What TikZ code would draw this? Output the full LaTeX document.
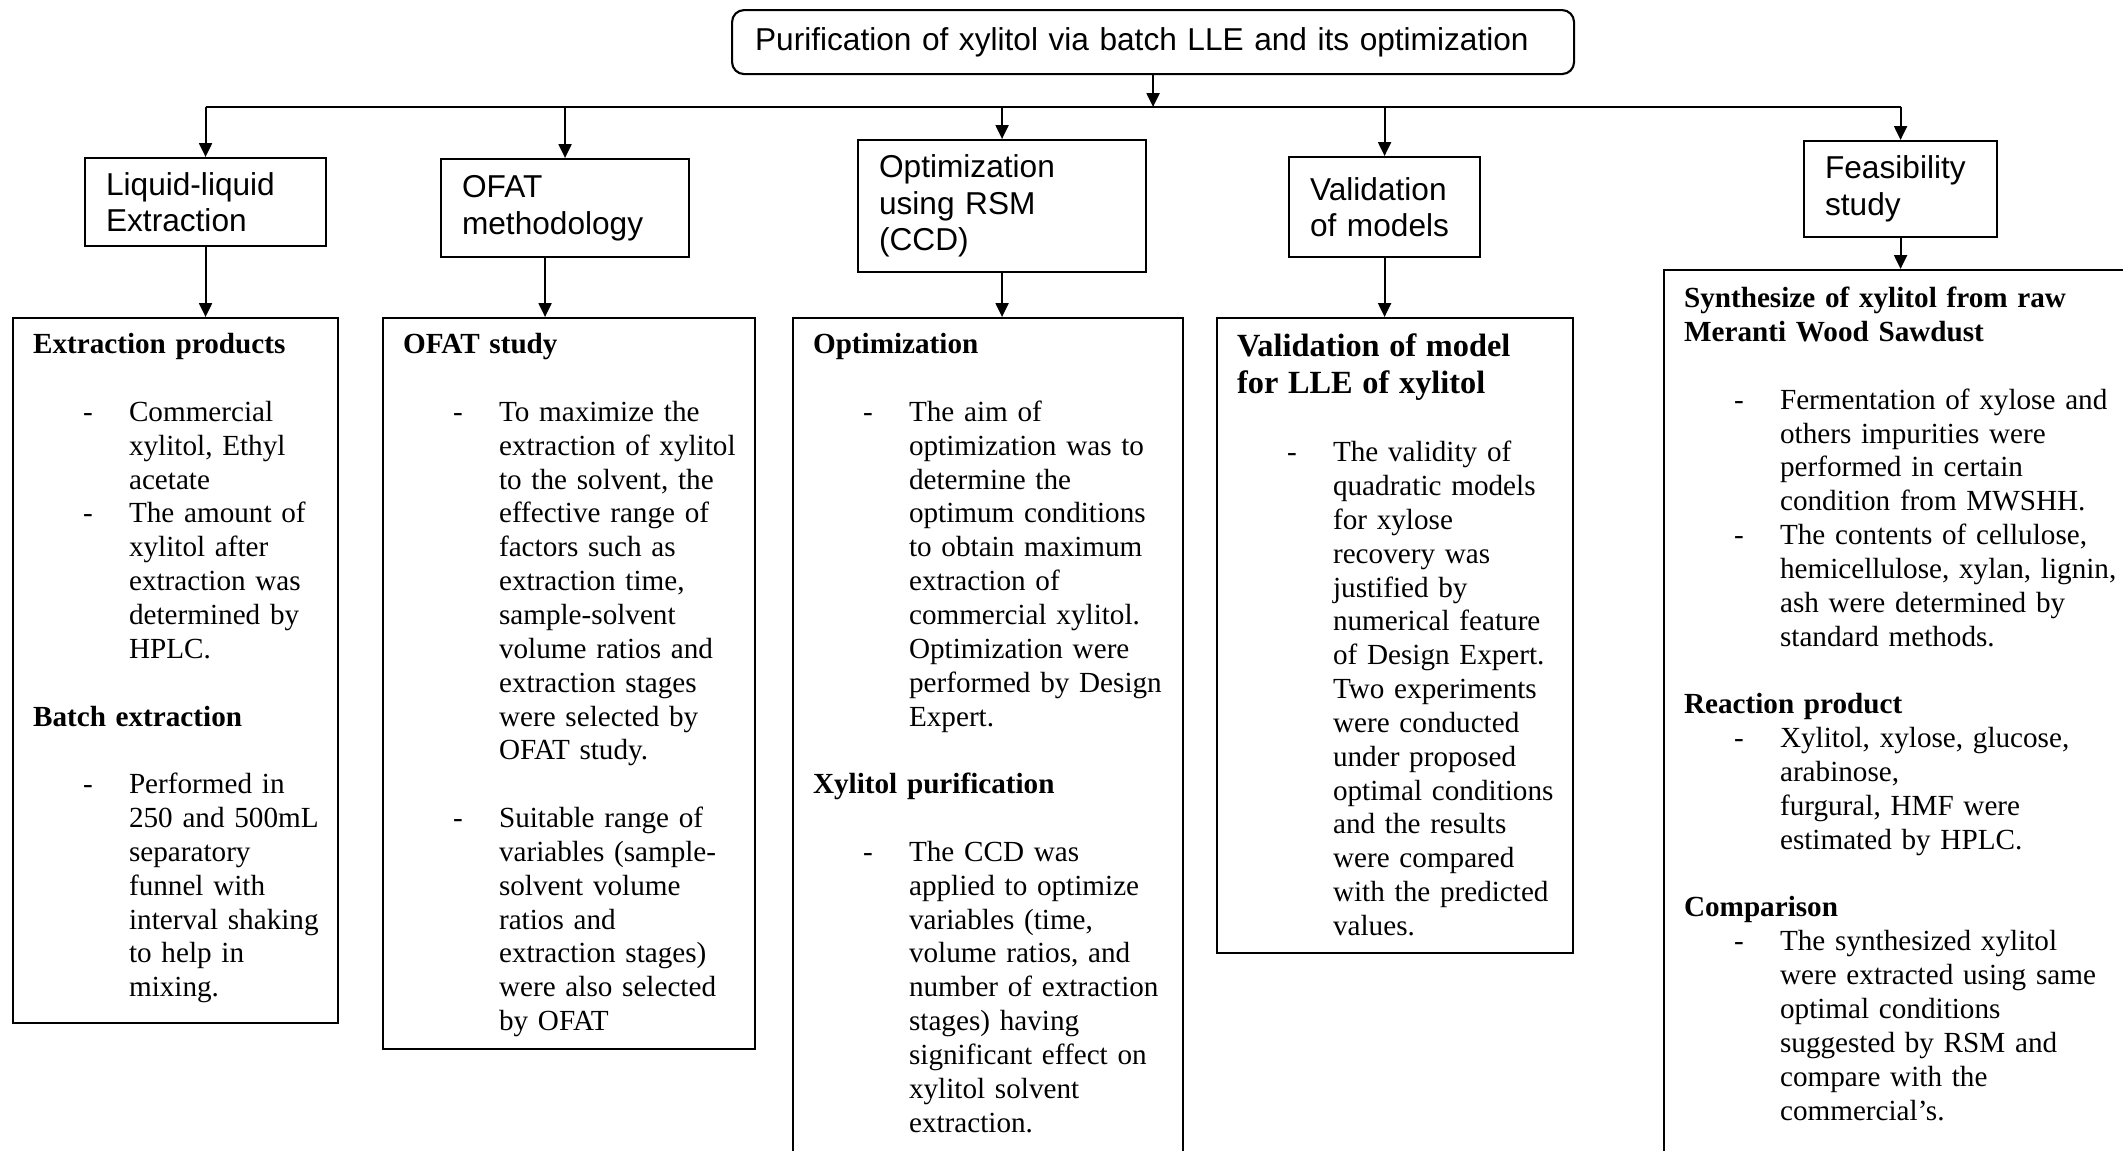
\documentclass[tikz,border=0pt]{standalone}
\usepackage{fontspec}
\setmainfont{Liberation Serif}
\newfontfamily\arialfont{Liberation Sans}
\usetikzlibrary{positioning,arrows.meta}

\newcommand{\nl}{\hfil\break}
\newcommand{\hd}[1]{\noindent\strut\textbf{#1}\par}
\newcommand{\itm}[1]{\noindent\hangindent=9.6mm\hangafter=1\hbox to 9.6mm{\hskip5mm-\hfil}#1\par}
\newcommand{\gap}{\vspace{\baselineskip}}

\tikzset{
  arr/.style={-{Triangle[width=1.3mm,length=1.4mm]}},
  title/.style={draw,rounded corners=1.2mm,anchor=north west,align=left,inner xsep=2.3mm,inner ysep=0pt,font=\arialfont\fontsize{9}{10.4}\selectfont},
  lbl/.style={draw,anchor=north west,align=left,inner xsep=2.1mm,inner ysep=0pt,font=\arialfont\fontsize{9}{10.4}\selectfont},
  frame/.style={draw,anchor=north west,inner sep=0pt},
  boxtext/.style={anchor=north west,inner sep=0pt,align=left,font=\fontsize{8.3}{9.63}\selectfont}
}

\begin{document}
\begin{tikzpicture}[x=0.1mm,y=-0.1mm,line width=0.6pt]
    \useasboundingbox (0,0) rectangle (2123,1150);
    \clip (0,0) rectangle (2123,1150);

    \node[title,text width=79.6mm,minimum height=6.4mm] (top) at (731,9) {Purification of xylitol via batch LLE and its optimization};

    \node[lbl,text width=19.9mm,minimum height=8.8mm] (lle) at (84,157) {Liquid-liquid\\Extraction};
    \node[lbl,text width=20.6mm,minimum height=9.8mm] (ofat) at (440,158) {OFAT\\methodology};
    \node[lbl,text width=24.6mm,minimum height=13.2mm] (rsm) at (857,139) {Optimization\\using RSM\\(CCD)};
    \node[lbl,text width=14.9mm,minimum height=10mm] (valid) at (1288,156) {Validation\\of models};
    \node[lbl,text width=15.1mm,minimum height=9.6mm] (feas) at (1803,140) {Feasibility\\study};

    \node[frame,minimum width=32.5mm,minimum height=70.5mm] (prod) at (12,317) {};
    \node[frame,minimum width=37.2mm,minimum height=73.1mm] (study) at (382,317) {};
    \node[frame,minimum width=39mm,minimum height=90mm] (optim) at (792,317) {};
    \node[frame,minimum width=35.6mm,minimum height=63.5mm] (check) at (1216,317) {};
    \node[frame,minimum width=50mm,minimum height=95mm] (synth) at (1663,269) {};

    \node[boxtext,text width=30mm,below right=1.2mm and 2mm of prod.north west] (prodT) {%
        \hd{Extraction products}\gap
        \itm{Commercial\nl xylitol, Ethyl\nl acetate}
        \itm{The amount of\nl xylitol after\nl extraction was\nl determined by\nl HPLC.}\gap
        \hd{Batch extraction}\gap
        \itm{Performed in\nl 250 and 500mL\nl separatory\nl funnel with\nl interval shaking\nl to help in\nl mixing.}};
    \node[boxtext,text width=35mm,below right=1.2mm and 2mm of study.north west] (studyT) {%
        \hd{OFAT study}\gap
        \itm{To maximize the\nl extraction of xylitol\nl to the solvent, the\nl effective range of\nl factors such as\nl extraction time,\nl sample-solvent\nl volume ratios and\nl extraction stages\nl were selected by\nl OFAT study.}\gap
        \itm{Suitable range of\nl variables (sample-\nl solvent volume\nl ratios and\nl extraction stages)\nl were also selected\nl by OFAT}};
    \node[boxtext,text width=37mm,below right=1.2mm and 2mm of optim.north west] (optimT) {%
        \hd{Optimization}\gap
        \itm{The aim of\nl optimization was to\nl determine the\nl optimum conditions\nl to obtain maximum\nl extraction of\nl commercial xylitol.\nl Optimization were\nl performed by Design\nl Expert.}\gap
        \hd{Xylitol purification}\gap
        \itm{The CCD was\nl applied to optimize\nl variables (time,\nl volume ratios, and\nl number of extraction\nl stages) having\nl significant effect on\nl xylitol solvent\nl extraction.}};
    \node[boxtext,text width=34mm,below right=1.2mm and 2mm of check.north west] (checkT) {%
        {\fontsize{9.2}{10.7}\selectfont\hd{Validation of model\nl for LLE of xylitol}}\gap
        \itm{The validity of\nl quadratic models\nl for xylose\nl recovery was\nl justified by\nl numerical feature\nl of Design Expert.\nl Two experiments\nl were conducted\nl under proposed\nl optimal conditions\nl and the results\nl were compared\nl with the predicted\nl values.}};
    \node[boxtext,text width=45mm,below right=1.4mm and 2mm of synth.north west] (synthT) {%
        \hd{Synthesize of xylitol from raw\nl Meranti Wood Sawdust}\gap
        \itm{Fermentation of xylose and\nl others impurities were\nl performed in certain\nl condition from MWSHH.}
        \itm{The contents of cellulose,\nl hemicellulose, xylan, lignin,\nl ash were determined by\nl standard methods.}\gap
        \hd{Reaction product}
        \itm{Xylitol, xylose, glucose,\nl arabinose,\nl furgural, HMF were\nl estimated by HPLC.}\gap
        \hd{Comparison}
        \itm{The synthesized xylitol\nl were extracted using same\nl optimal conditions\nl suggested by RSM and\nl compare with the\nl commercial’s.}};

    \coordinate (bus) at (0,107);
    \draw[arr] (top.south) -- (top.south |- bus);
    \draw (lle.north |- bus) -- (feas.north |- bus);
    \foreach \n in {lle,ofat,rsm,valid,feas}
        \draw[arr] (\n.north |- bus) -- (\n.north);

    \coordinate (ofatout) at ([xshift=-2mm]ofat.south);
    \draw[arr] (lle.south) -- (lle.south |- prod.north);
    \draw[arr] (ofatout) -- (ofatout |- study.north);
    \draw[arr] (rsm.south) -- (rsm.south |- optim.north);
    \draw[arr] (valid.south) -- (valid.south |- check.north);
    \draw[arr] (feas.south) -- (feas.south |- synth.north);
\end{tikzpicture}
\end{document}
